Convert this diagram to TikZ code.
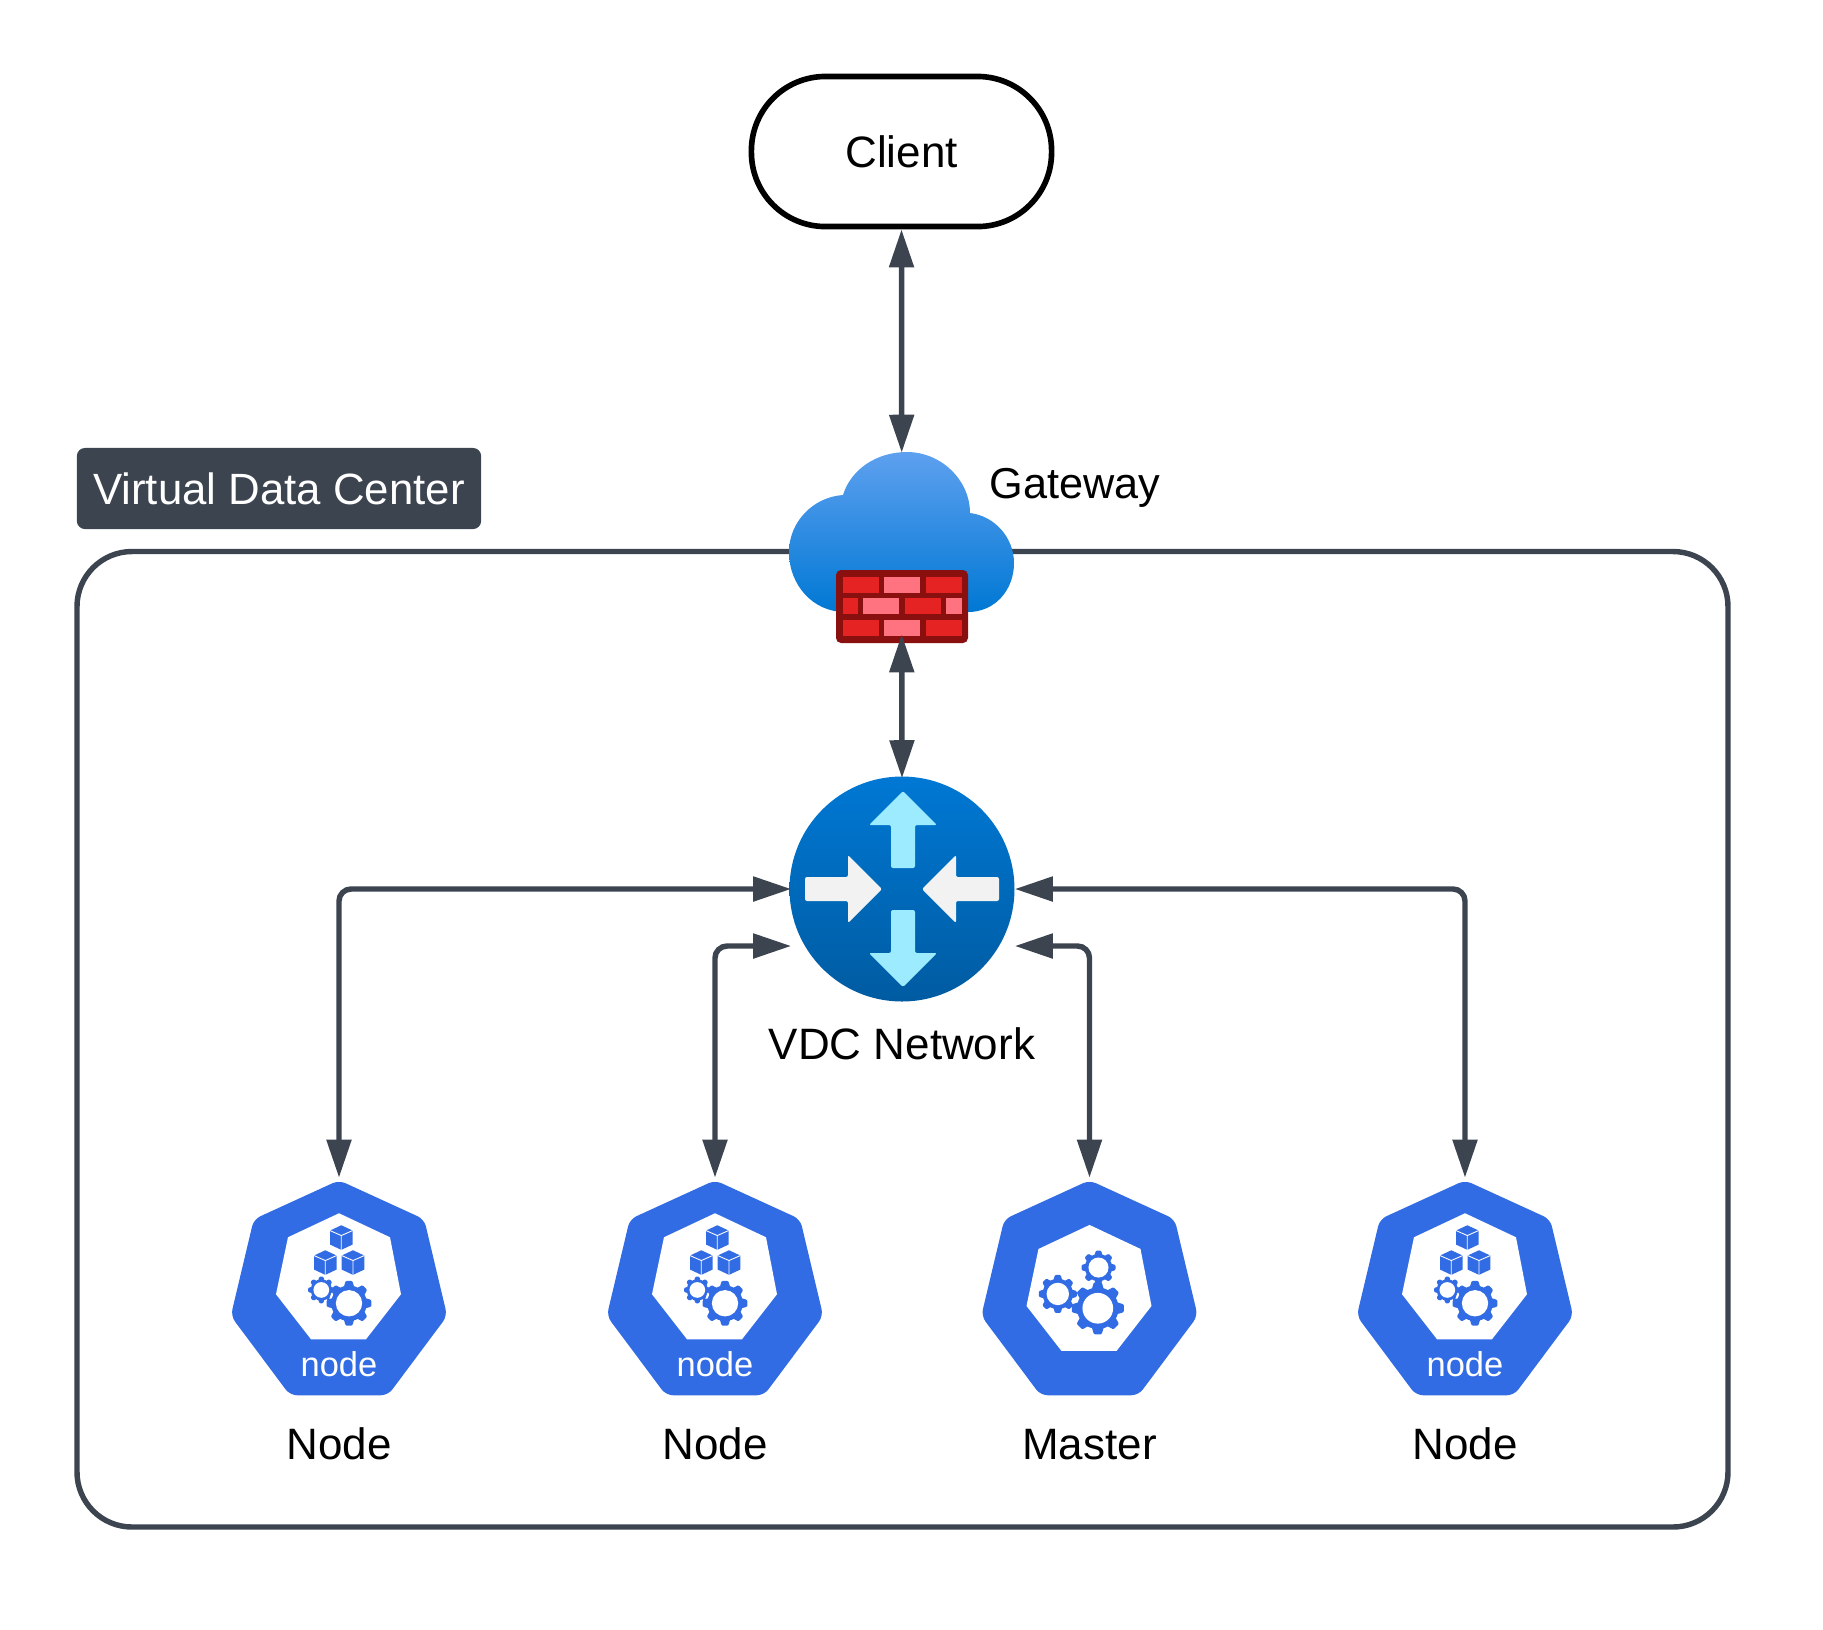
\documentclass[tikz,border=0pt]{standalone}
\usepackage{fontspec}
\setmainfont{Liberation Sans}
\usetikzlibrary{arrows.meta, positioning, calc}
\definecolor{slate}{HTML}{3C4450}
\definecolor{kubeblue}{HTML}{326CE5}
\definecolor{brickdark}{HTML}{8A1010}
\definecolor{brickred}{HTML}{E62323}
\definecolor{brickpink}{HTML}{FF7381}
\definecolor{cloudtop}{HTML}{5EA0EF}
\definecolor{cloudbottom}{HTML}{0078D4}
\definecolor{hubbottom}{HTML}{005BA1}
\definecolor{hubup}{HTML}{9CEBFF}
\definecolor{hubside}{HTML}{F2F2F2}

\begin{document}
\begin{tikzpicture}[
  x=0.01cm, y=-0.01cm,
  font=\fontsize{12.5}{14}\selectfont,
  frame/.style={draw=slate, line width=1.55pt, rounded corners=0.55cm},
  tagbox/.style={fill=slate, text=white, rounded corners=0.08cm, minimum width=4.04cm, minimum height=0.81cm, inner sep=0pt},
  client/.style={draw=black, line width=1.6pt, fill=white, rounded corners=0.74cm, minimum width=3cm, minimum height=1.5cm},
  iconbox/.style={minimum width=2.14cm, minimum height=2.19cm, inner sep=0pt},
  gatebox/.style={minimum width=2.25cm, minimum height=1.85cm, inner sep=0pt},
  hub/.style={circle, minimum size=2.25cm, inner sep=0pt},
  txt/.style={inner sep=0pt},
  machinetxt/.style={inner sep=0pt, text height=9.1pt, below=0.31cm of #1},
  icontxt/.style={inner sep=0pt, text=white, font=\fontsize{9.8}{12}\selectfont},
  link/.style={draw=slate, line width=1.55pt, rounded corners=0.12cm, shorten >=-0.7pt, shorten <=-0.7pt, {Triangle[length=10.8pt,width=6.8pt]}-{Triangle[length=10.8pt,width=6.8pt]}},
  pics/dirarrow/.style={code={
    \fill[#1, rounded corners=0.02cm] (0,-12) -- (43,-12) -- (43,-34) -- (77,0) -- (43,34) -- (43,12) -- (0,12) -- cycle;
  }},
  pics/gear/.style={code={
    \fill[white] (0,0) circle (0.9*#1);
    \fill[kubeblue] (0,0) circle (0.8*#1);
    \foreach \a in {0,45,...,315}{
      \fill[kubeblue, rotate=\a, rounded corners=0.01cm] (0.7*#1,-0.24*#1) -- (#1,-0.15*#1) -- (#1,0.15*#1) -- (0.7*#1,0.24*#1) -- cycle;
    }
    \fill[white] (0,0) circle (0.59*#1);
  }},
  pics/cube/.style={code={
    \fill[kubeblue] (0,-12.3) -- (11.3,-7) -- (11.3,7) -- (0,12.3) -- (-11.3,7) -- (-11.3,-7) -- cycle;
    \draw[white, line width=0.25pt] (-11.3,-7) -- (0,-2) -- (11.3,-7) (0,-2) -- (0,12.3);
  }},
  pics/shell/.style={code={
    \fill[kubeblue, rounded corners=0.07cm] (0,5) -- (85.2,44) -- (108.2,140.7) -- (49,220) -- (-49,220) -- (-108.2,140.7) -- (-85.2,44) -- cycle;
    \fill[white] (0,38+#1) -- (51,62+#1) -- (62,119+#1) -- (27,164+#1) -- (-28,164+#1) -- (-63,119+#1) -- (-51,62+#1) -- cycle;
  }},
  pics/workericon/.style={code={
    \pic {shell=0};
    \pic at (2.3,62.3) {cube};
    \pic at (-13.7,87.3) {cube};
    \pic at (14,87.3) {cube};
    \pic at (-17.7,114.7) {gear=13.3};
    \pic at (10,128) {gear=22.3};
  }},
  pics/mastericon/.style={code={
    \pic {shell=11.7};
    \pic at (9,92.3) {gear=17};
    \pic at (-31.7,118.7) {gear=19};
    \pic at (8.3,133) {gear=26};
  }},
]
\useasboundingbox (0,0) rectangle (1823,1629);

% Data center frame
\draw[frame] (77,551.5) rectangle (1728,1527);
\node[tagbox] (tag) at (279,488.5) {\raisebox{-1pt}{\fontsize{12.45}{14}\selectfont Virtual Data Center}};

% Client
\node[client] (cl) at (901.5,151.5) {\raisebox{-0.4pt}{Client}};

% Gateway: cloud with firewall
\node[gatebox] (gw) at (901.7,543.5) {};
\shade[top color=cloudtop, bottom color=cloudbottom] (843,495) .. controls (851,469) and (877,452) .. (907,452) .. controls (941,452) and (970,480) .. (970,513) .. controls (995,516) and (1014,538) .. (1014,563) .. controls (1014,590) and (995,612) .. (968,612) -- (845,612) .. controls (813,612) and (789,585) .. (789,552) .. controls (789,522) and (813,497) .. (843,495) -- cycle;
\fill[brickdark, rounded corners=0.05cm] (836,570) rectangle (968,643);
\foreach \x/\w/\c in {842.7/36.3/brickred, 884.3/36/brickpink, 925.7/36.3/brickred}{
  \fill[\c] (\x,577) rectangle ++(\w,16.3);
  \fill[\c] (\x,620) rectangle ++(\w,16);
}
\foreach \x/\w/\c in {842.7/15.6/brickred, 863.3/36/brickpink, 904.7/36.3/brickred, 946.3/15.7/brickpink}{
  \fill[\c] (\x,598.3) rectangle ++(\w,16);
}
\node[txt, anchor=base west, font=\fontsize{12.3}{14}\selectfont] (gwlabel) at (989,498) {Gateway};

% VDC network
\node[hub] (hub) at (902,889) {};
\shade[top color=cloudbottom, bottom color=hubbottom] (hub.center) circle (112.5);
\pic[rotate=90] at (903,868) {dirarrow=hubup};
\pic[rotate=-90] at (903,910) {dirarrow=hubup};
\pic at (805,889) {dirarrow=hubside};
\pic[rotate=180] at (999,889) {dirarrow=hubside};
\node[txt, below=0.25cm of hub] (hublabel) {VDC Network};

% Machines
\node[iconbox] (n1) at (339,1285.5) {};
\node[iconbox] (n2) at (715,1285.5) {};
\node[iconbox] (ma) at (1089.5,1285.5) {};
\node[iconbox] (n3) at (1465,1285.5) {};
\foreach \n in {n1,n2,n3}{
  \pic at (\n.north) {workericon};
  \node[icontxt] (\n text) at ($(\n.north)+(0,189)$) {node};
}
\pic at (ma.north) {mastericon};
\node[machinetxt=n1] (n1label) {Node};
\node[machinetxt=n2] (n2label) {Node};
\node[machinetxt=ma] (malabel) {Master};
\node[machinetxt=n3] (n3label) {Node};

% Links
\coordinate (hube) at ($(hub.east)+(2,0)$);
\coordinate (hubsw) at ($(hub.west)+(0,57)$);
\coordinate (hubse) at ($(hub.east)+(2,57)$);
\draw[link, shorten <=0pt] (cl.south) -- (gw.north);
\draw[link] (gw.south) -- (hub.north);
\draw[link] (n1.north) |- (hub.west);
\draw[link] (n2.north) |- (hubsw);
\draw[link] (ma.north) |- (hubse);
\draw[link] (n3.north) |- (hube);
\end{tikzpicture}
\end{document}
